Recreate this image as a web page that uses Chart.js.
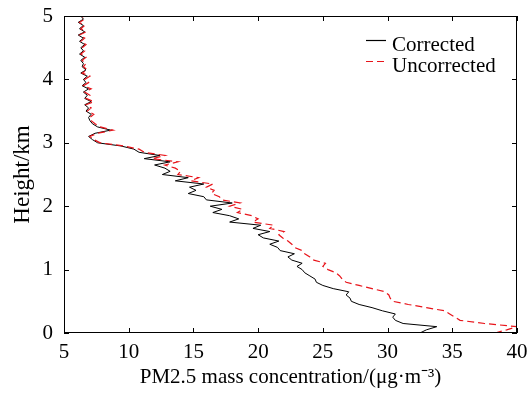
<!DOCTYPE html>
<html>
<head>
<meta charset="utf-8">
<script src="https://cdn.jsdelivr.net/npm/chart.js@4"></script>
<style>
  html, body { margin: 0; padding: 0; background: #fff; }
  #wrap { width: 531px; height: 395px; }
</style>
</head>
<body>
<div id="wrap"><canvas id="c" width="531" height="395"></canvas></div>
<script>
// 高度プロファイル (km)
const HEIGHTS = [
  0.00,0.05,0.10,0.15,0.20,0.25,0.30,0.35,0.40,0.45,
  0.50,0.55,0.60,0.65,0.70,0.75,0.80,0.85,0.90,0.95,
  1.00,1.05,1.10,1.15,1.20,1.25,1.30,1.35,1.40,1.45,
  1.50,1.55,1.60,1.65,1.70,1.75,1.80,1.85,1.90,1.95,
  2.00,2.05,2.10,2.15,2.20,2.25,2.30,2.35,2.40,2.45,
  2.50,2.55,2.60,2.65,2.70,2.75,2.80,2.85,2.90,2.95,
  3.00,3.05,3.10,3.15,3.20,3.25,3.30,3.35,3.40,3.45,
  3.50,3.55,3.60,3.65,3.70,3.75,3.80,3.85,3.90,3.95,
  4.00,4.05,4.10,4.15,4.20,4.25,4.30,4.35,4.40,4.45,
  4.50,4.55,4.60,4.65,4.70,4.75,4.80,4.85,4.90,4.95,
  5.00
];
const CORRECTED = [
  32.5,33.0,33.8,31.2,30.6,30.4,30.6,29.6,28.8,27.8,
  27.2,27.1,26.8,27.0,25.8,25.0,24.5,24.4,24.0,23.6,
  23.4,23.0,23.4,22.6,22.3,22.8,21.7,21.5,20.9,21.6,
  20.4,20.0,20.9,19.6,20.2,17.8,18.5,17.8,16.5,17.2,
  16.3,18.0,16.0,15.8,14.6,15.2,14.7,15.8,13.6,14.6,
  12.6,13.2,12.8,12.0,13.2,11.2,12.4,10.8,10.4,9.4,
  7.6,7.2,6.9,7.4,8.6,7.6,7.2,7.0,6.9,7.1,
  6.7,6.9,6.6,7.1,6.6,6.8,6.5,6.9,6.4,6.7,
  6.5,6.8,6.3,6.7,6.4,6.5,6.3,6.6,6.2,6.5,
  6.3,6.6,6.2,6.5,6.1,6.6,6.2,6.5,6.1,6.5,
  6.3
];
const UNCORRECTED = [
  38.3,39.2,40.0,37.5,35.6,35.2,34.8,34.4,33.0,31.6,
  30.4,30.2,30.1,29.8,28.8,27.8,26.8,26.5,26.3,26.0,
  25.4,25.0,25.2,24.3,24.0,23.6,23.4,22.8,22.6,22.3,
  21.9,21.6,22.0,20.9,21.2,19.6,20.0,19.5,18.4,18.8,
  17.8,18.6,17.2,17.0,16.4,16.6,16.0,16.5,14.8,15.4,
  13.8,14.0,13.6,12.8,13.8,11.8,12.8,11.2,10.8,9.6,
  7.8,7.3,7.0,7.6,8.8,7.8,7.4,7.1,7.0,7.3,
  6.8,7.1,6.7,7.3,6.7,7.0,6.6,7.1,6.5,6.9,
  6.6,7.0,6.4,6.8,6.5,6.7,6.4,6.7,6.3,6.6,
  6.4,6.7,6.3,6.6,6.2,6.7,6.3,6.6,6.2,6.6,
  6.4
];
const X_TICKS = [5,10,15,20,25,30,35,40];
const Y_TICKS = [0,1,2,3,4,5];
const LABELS = ["Corrected","Uncorrected"];

const FONT = "'Liberation Serif', 'Times New Roman', serif";

function toPoints(xs) {
  return xs.map((x, i) => ({ x, y: HEIGHTS[i] }));
}

// 枠と内向き目盛
const boxPlugin = {
  id: "box",
  afterDraw(chart) {
    const { ctx, chartArea: a, scales } = chart;
    ctx.save();
    ctx.strokeStyle = "#000";
    ctx.lineWidth = 1;
    ctx.strokeRect(a.left + 0.5, a.top + 0.5, a.right - a.left - 1, a.bottom - a.top - 1);
    const L = 5;
    ctx.beginPath();
    X_TICKS.forEach(v => {
      const px = Math.round(scales.x.getPixelForValue(v)) + 0.5;
      ctx.moveTo(px, a.bottom); ctx.lineTo(px, a.bottom - L);
      ctx.moveTo(px, a.top); ctx.lineTo(px, a.top + L);
    });
    Y_TICKS.forEach(v => {
      const py = Math.round(scales.y.getPixelForValue(v)) + 0.5;
      ctx.moveTo(a.left, py); ctx.lineTo(a.left + L, py);
      ctx.moveTo(a.right, py); ctx.lineTo(a.right - L, py);
    });
    ctx.stroke();

    // 凡例
    ctx.font = "21px " + FONT;
    ctx.textBaseline = "middle";
    ctx.fillStyle = "#000";
    chart.data.datasets.forEach((ds, i) => {
      const y = 40 + i * 21;
      ctx.beginPath();
      ctx.strokeStyle = ds.borderColor;
      ctx.lineWidth = 1.2;
      ctx.setLineDash(ds.borderDash || []);
      ctx.moveTo(366, y + 0.5); ctx.lineTo(386, y + 0.5);
      ctx.stroke();
      ctx.setLineDash([]);
      ctx.fillText(ds.label, 392, y + 5);
    });
    ctx.restore();
  }
};

new Chart(document.getElementById("c").getContext("2d"), {
  type: "scatter",
  data: {
    datasets: [
      {
        label: LABELS[0],
        data: toPoints(CORRECTED),
        showLine: true,
        borderColor: "#000000",
        borderWidth: 1,
        pointRadius: 0,
        tension: 0,
        order: 2,
      },
      {
        label: LABELS[1],
        data: toPoints(UNCORRECTED),
        showLine: true,
        borderColor: "#e8141a",
        borderWidth: 1.2,
        borderDash: [7, 4],
        pointRadius: 0,
        tension: 0,
        order: 1,
      },
    ]
  },
  options: {
    responsive: false,
    animation: false,
    layout: { padding: { top: 16, right: 14, left: 0, bottom: 0 } },
    plugins: {
      legend: { display: false },
      tooltip: { enabled: false },
    },
    scales: {
      x: {
        type: "linear",
        min: 5, max: 40,
        afterBuildTicks: (s) => { s.ticks = X_TICKS.map(v => ({ value: v })); },
        afterFit: (s) => { s.height = 62; s.paddingLeft = 0; s.paddingRight = 0; },
        grid: { display: false, drawTicks: false },
        border: { display: false },
        ticks: { color: "#000", font: { family: FONT, size: 21 }, padding: 7, maxRotation: 0 },
        title: {
          display: true,
          text: "PM2.5 mass concentration/(μg·m⁻³)",
          color: "#000",
          font: { family: FONT, size: 21 },
          padding: { top: 0, bottom: 5 },
        },
      },
      y: {
        type: "linear",
        min: 0, max: 5,
        afterBuildTicks: (s) => { s.ticks = Y_TICKS.map(v => ({ value: v })); },
        afterFit: (s) => { s.width = 64; s.paddingTop = 0; s.paddingBottom = 0; },
        grid: { display: false, drawTicks: false },
        border: { display: false },
        ticks: { color: "#000", font: { family: FONT, size: 21 }, padding: 11 },
        title: {
          display: true,
          text: "Height/km",
          color: "#000",
          font: { family: FONT, size: 23 },
          padding: { top: 9, bottom: 0 },
        },
      },
    }
  },
  plugins: [boxPlugin]
});
</script>
</body>
</html>
